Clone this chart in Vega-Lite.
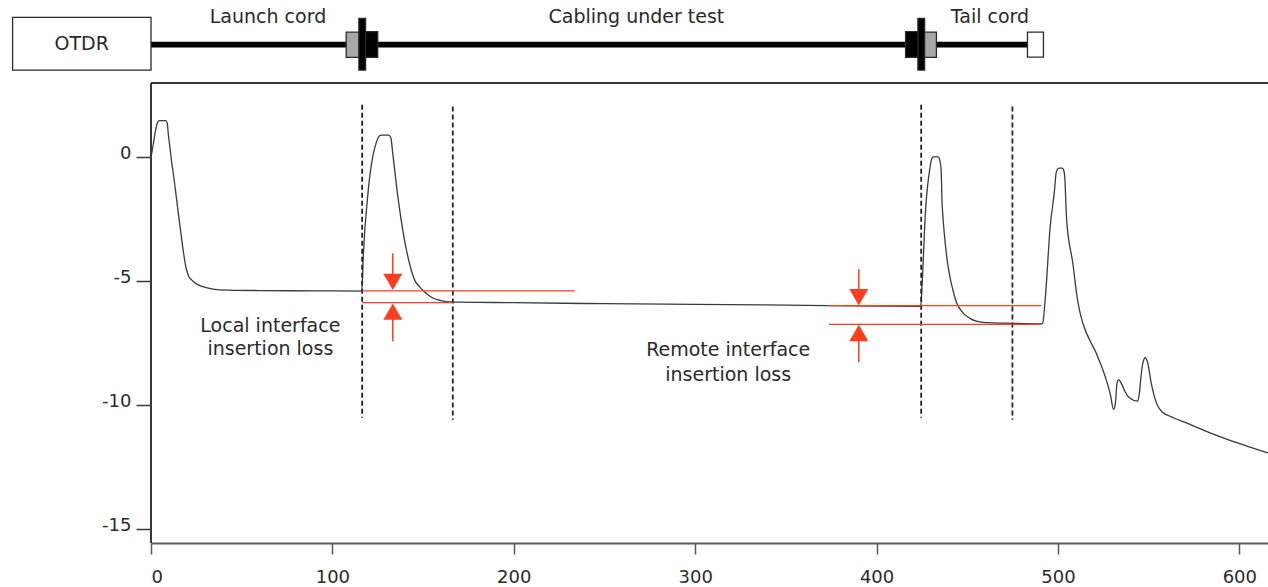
{
  "$schema": "https://vega.github.io/schema/vega-lite/v6.json",
  "width": 1117,
  "height": 543,
  "autosize": {"type": "none"},
  "padding": {"left": 151, "top": 0, "right": 0, "bottom": 44},
  "background": "white",
  "config": {"view": {"stroke": null}, "font": "DejaVu Sans"},
  "datasets": {
    "trace": [
      {"d": 0, "y": 0}, {"d": 1.2, "y": 0.5}, {"d": 2.4, "y": 1.05}, {"d": 3.7, "y": 1.42}, {"d": 4.6, "y": 1.48},
      {"d": 8.0, "y": 1.48}, {"d": 8.9, "y": 1.4}, {"d": 9.6, "y": 0.9}, {"d": 10.6, "y": 0.3}, {"d": 11.5, "y": -0.25},
      {"d": 12.2, "y": -0.6}, {"d": 15.5, "y": -2.5}, {"d": 19.4, "y": -4.47}, {"d": 20.6, "y": -4.76}, {"d": 22.5, "y": -4.95},
      {"d": 25.5, "y": -5.12}, {"d": 30.4, "y": -5.25}, {"d": 37.8, "y": -5.34}, {"d": 60, "y": -5.37}, {"d": 90, "y": -5.38},
      {"d": 116.2, "y": -5.39}, {"d": 117.1, "y": -3.87}, {"d": 119.5, "y": -1.53}, {"d": 125.0, "y": 0.75}, {"d": 126.0, "y": 0.87},
      {"d": 127.0, "y": 0.9}, {"d": 131.0, "y": 0.9}, {"d": 132.2, "y": 0.8}, {"d": 133.3, "y": 0.15}, {"d": 136.0, "y": -1.53},
      {"d": 144.0, "y": -4.67}, {"d": 145.5, "y": -4.97}, {"d": 148.0, "y": -5.21}, {"d": 151.5, "y": -5.47}, {"d": 155.3, "y": -5.67},
      {"d": 160.0, "y": -5.78}, {"d": 164.6, "y": -5.83}, {"d": 200, "y": -5.86}, {"d": 250, "y": -5.9}, {"d": 300, "y": -5.93},
      {"d": 350, "y": -5.96}, {"d": 373.7, "y": -5.98}, {"d": 424.3, "y": -6.01}, {"d": 425.2, "y": -5.0}, {"d": 426.9, "y": -2.26},
      {"d": 429.5, "y": -0.4}, {"d": 430.4, "y": -0.06}, {"d": 431.2, "y": 0.02}, {"d": 433.9, "y": 0.02}, {"d": 434.9, "y": -0.12},
      {"d": 435.6, "y": -0.52}, {"d": 436.2, "y": -2.0}, {"d": 443.0, "y": -5.61}, {"d": 444.2, "y": -5.87}, {"d": 445.7, "y": -6.08},
      {"d": 448.0, "y": -6.3}, {"d": 451.2, "y": -6.48}, {"d": 455.0, "y": -6.6}, {"d": 458.5, "y": -6.65}, {"d": 475, "y": -6.69},
      {"d": 491.0, "y": -6.71}, {"d": 491.6, "y": -6.68}, {"d": 493.1, "y": -5.61}, {"d": 495.7, "y": -2.8}, {"d": 498.1, "y": -1.33},
      {"d": 499.0, "y": -0.62}, {"d": 499.8, "y": -0.47}, {"d": 500.6, "y": -0.43}, {"d": 502.4, "y": -0.43}, {"d": 503.3, "y": -0.55},
      {"d": 503.7, "y": -0.75}, {"d": 504.8, "y": -2.53}, {"d": 508.2, "y": -4.27}, {"d": 510.5, "y": -5.6}, {"d": 511.8, "y": -6.14},
      {"d": 513.7, "y": -6.68}, {"d": 521.0, "y": -7.88}, {"d": 526.6, "y": -8.96}, {"d": 529.0, "y": -9.6}, {"d": 530.6, "y": -10.16},
      {"d": 531.2, "y": -10.1}, {"d": 531.7, "y": -9.89}, {"d": 532.6, "y": -9.09}, {"d": 533.5, "y": -8.96}, {"d": 534.8, "y": -9.09},
      {"d": 537.0, "y": -9.45}, {"d": 539.4, "y": -9.69}, {"d": 544.0, "y": -9.83}, {"d": 544.9, "y": -9.49}, {"d": 546.0, "y": -8.7},
      {"d": 546.8, "y": -8.29}, {"d": 548.1, "y": -8.08}, {"d": 549.5, "y": -8.29}, {"d": 551.4, "y": -9.09}, {"d": 553.0, "y": -9.6},
      {"d": 554.2, "y": -9.89}, {"d": 557.8, "y": -10.29}, {"d": 561.5, "y": -10.43}, {"d": 572.5, "y": -10.76}, {"d": 583.5, "y": -11.1},
      {"d": 594.5, "y": -11.4}, {"d": 605.5, "y": -11.67}, {"d": 615.8, "y": -11.92}
    ],
    "markers": [
      {"d": 116.4, "y1": 2.12, "y2": -10.5},
      {"d": 166.4, "y1": 2.05, "y2": -10.58},
      {"d": 424.6, "y1": 2.12, "y2": -10.5},
      {"d": 474.9, "y1": 2.05, "y2": -10.58}
    ],
    "levels": [
      {"d1": 116.4, "d2": 233.5, "y": -5.38},
      {"d1": 116.4, "d2": 166.4, "y": -5.86},
      {"d1": 373.7, "d2": 490.7, "y": -5.98},
      {"d1": 373.7, "d2": 490.7, "y": -6.73}
    ],
    "stems": [
      {"d": 133.3, "y1": -3.87, "y2": -4.8},
      {"d": 133.3, "y1": -6.5, "y2": -7.42},
      {"d": 390.2, "y1": -4.51, "y2": -5.4},
      {"d": 390.2, "y1": -7.3, "y2": -8.26}
    ],
    "heads": [
      {"d": 133.3, "y": -5.02, "dir": "down"},
      {"d": 133.3, "y": -6.22, "dir": "up"},
      {"d": 390.2, "y": -5.64, "dir": "down"},
      {"d": 390.2, "y": -7.08, "dir": "up"}
    ],
    "notes": [
      {"d": 65.8, "y": -6.78, "text": "Local interface"},
      {"d": 65.8, "y": -7.74, "text": "insertion loss"},
      {"d": 318.2, "y": -7.75, "text": "Remote interface"},
      {"d": 318.2, "y": -8.76, "text": "insertion loss"},
      {"d": 64.5, "y": 5.68, "text": "Launch cord"},
      {"d": 267.6, "y": 5.68, "text": "Cabling under test"},
      {"d": 462.5, "y": 5.68, "text": "Tail cord"},
      {"d": -38.2, "y": 4.57, "text": "OTDR"}
    ],
    "hframe": [
      {"d1": 0, "d2": 615.8, "y": 3.0}
    ],
    "vframe": [
      {"d": 0, "y1": -15.55, "y2": 3.0}
    ],
    "fiber": [
      {"d1": 0, "d2": 483.2, "y": 4.55}
    ],
    "parts": [
      {"d1": -76.3, "d2": 0, "y1": 3.52, "y2": 5.65, "part": "box"},
      {"d1": 107.6, "d2": 114.9, "y1": 4.03, "y2": 5.05, "part": "plug"},
      {"d1": 114.9, "d2": 125.0, "y1": 4.03, "y2": 5.07, "part": "connector"},
      {"d1": 114.6, "d2": 118.3, "y1": 3.52, "y2": 5.6, "part": "connector"},
      {"d1": 416.0, "d2": 426.2, "y1": 4.03, "y2": 5.07, "part": "connector"},
      {"d1": 426.2, "d2": 433.0, "y1": 4.03, "y2": 5.05, "part": "plug"},
      {"d1": 422.8, "d2": 426.5, "y1": 3.52, "y2": 5.6, "part": "connector"},
      {"d1": 483.2, "d2": 492.0, "y1": 4.04, "y2": 5.05, "part": "box"}
    ]
  },
  "layer": [
    {
      "data": {"name": "trace"},
      "mark": {"type": "line", "color": "#3a3a3a", "strokeWidth": 1.3, "interpolate": "monotone"},
      "encoding": {
        "x": {
          "field": "d", "type": "quantitative",
          "scale": {"domain": [0, 615.8], "nice": false, "zero": false},
          "axis": {
            "title": null, "grid": false, "values": [0, 100, 200, 300, 400, 500, 600],
            "domainColor": "#5a5a5a", "domainWidth": 2, "tickColor": "#5a5a5a", "tickWidth": 1.5, "tickSize": 11,
            "labelFont": "DejaVu Sans", "labelFontSize": 18, "labelColor": "#2a2a2a", "labelPadding": 14
          }
        },
        "y": {
          "field": "y", "type": "quantitative",
          "scale": {"domain": [-15.55, 6.347], "nice": false, "zero": false},
          "axis": {
            "title": null, "grid": false, "domain": false, "values": [0, -5, -10, -15],
            "labelExpr": "'' + datum.value",
            "tickColor": "#3a3a3a", "tickWidth": 1.5, "tickSize": 15,
            "labelFont": "DejaVu Sans", "labelFontSize": 18, "labelColor": "#2a2a2a", "labelPadding": 5, "labelOffset": -4
          }
        }
      }
    },
    {
      "data": {"name": "hframe"},
      "mark": {"type": "rule", "color": "#3a3a3a", "strokeWidth": 2},
      "encoding": {"x": {"field": "d1", "type": "quantitative"}, "x2": {"field": "d2"}, "y": {"field": "y", "type": "quantitative"}}
    },
    {
      "data": {"name": "vframe"},
      "mark": {"type": "rule", "color": "#3a3a3a", "strokeWidth": 2},
      "encoding": {"x": {"field": "d", "type": "quantitative"}, "y": {"field": "y1", "type": "quantitative"}, "y2": {"field": "y2"}}
    },
    {
      "data": {"name": "markers"},
      "mark": {"type": "rule", "color": "#222222", "strokeWidth": 1.8, "strokeDash": [5, 3]},
      "encoding": {"x": {"field": "d", "type": "quantitative"}, "y": {"field": "y1", "type": "quantitative"}, "y2": {"field": "y2"}}
    },
    {
      "data": {"name": "levels"},
      "mark": {"type": "rule", "color": "#ff3c1e", "strokeWidth": 1.2},
      "encoding": {"x": {"field": "d1", "type": "quantitative"}, "x2": {"field": "d2"}, "y": {"field": "y", "type": "quantitative"}}
    },
    {
      "data": {"name": "stems"},
      "mark": {"type": "rule", "color": "#ff3c1e", "strokeWidth": 1.5},
      "encoding": {"x": {"field": "d", "type": "quantitative"}, "y": {"field": "y1", "type": "quantitative"}, "y2": {"field": "y2"}}
    },
    {
      "data": {"name": "heads"},
      "mark": {"type": "point", "filled": true, "color": "#ff3c1e", "opacity": 1, "size": 361},
      "encoding": {
        "x": {"field": "d", "type": "quantitative"},
        "y": {"field": "y", "type": "quantitative"},
        "shape": {"field": "dir", "type": "nominal", "scale": {"domain": ["down", "up"], "range": ["triangle-down", "triangle-up"]}, "legend": null}
      }
    },
    {
      "data": {"name": "fiber"},
      "mark": {"type": "rule", "color": "#000000", "strokeWidth": 5.7, "strokeCap": "butt"},
      "encoding": {"x": {"field": "d1", "type": "quantitative"}, "x2": {"field": "d2"}, "y": {"field": "y", "type": "quantitative"}}
    },
    {
      "data": {"name": "parts"},
      "mark": {"type": "rect", "stroke": "#2a2a2a", "strokeWidth": 1.3},
      "encoding": {
        "x": {"field": "d1", "type": "quantitative"}, "x2": {"field": "d2"},
        "y": {"field": "y1", "type": "quantitative"}, "y2": {"field": "y2"},
        "fill": {"field": "part", "type": "nominal", "scale": {"domain": ["box", "plug", "connector"], "range": ["#ffffff", "#a8a8a8", "#000000"]}, "legend": null}
      }
    },
    {
      "data": {"name": "notes"},
      "mark": {"type": "text", "font": "DejaVu Sans", "fontSize": 19, "color": "#2a2a2a", "align": "center", "baseline": "middle"},
      "encoding": {"x": {"field": "d", "type": "quantitative"}, "y": {"field": "y", "type": "quantitative"}, "text": {"field": "text"}}
    }
  ]
}
